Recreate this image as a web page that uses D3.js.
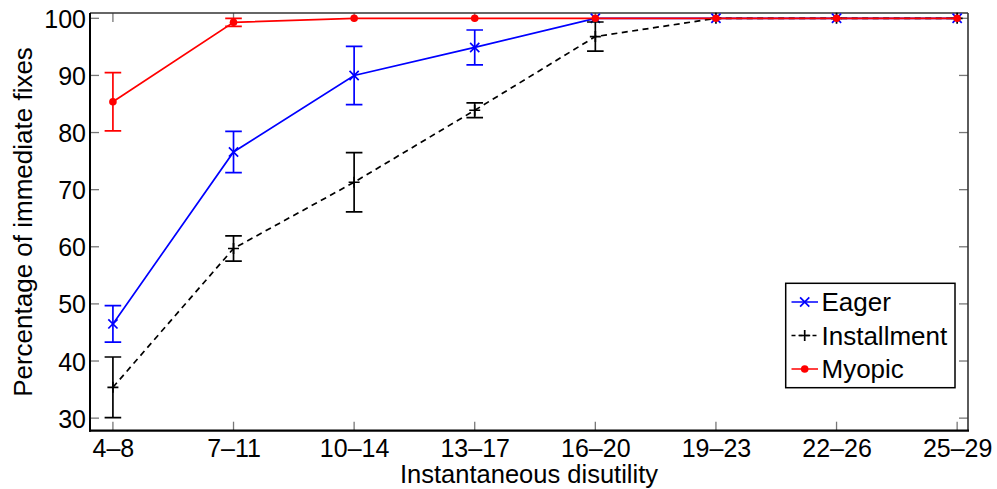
<!DOCTYPE html>
<html><head><meta charset="utf-8">
<script src="https://cdn.jsdelivr.net/npm/d3@7"></script>
<style>body{margin:0;background:#fff}svg{display:block}text{font-family:"Liberation Sans",Arial,Helvetica,sans-serif;fill:#000}</style>
</head><body>
<svg id="c" width="997" height="489"></svg>
<script>
const categories = ["4\u20138","7\u201311","10\u201314","13\u201317","16\u201320","19\u201323","22\u201326","25\u201329"];
const yTicks = [30,40,50,60,70,80,90,100];
const eagerMean = [46.5, 76.6, 90.0, 94.9, 100, 100, 100, 100];
const eagerErr  = [3.2, 3.6, 5.1, 3.05, 0, 0, 0, 0];
const installMean = [35.4, 59.7, 71.3, 83.9, 96.8, 100, 100, 100];
const installErr  = [5.3, 2.2, 5.2, 1.3, 2.55, 0, 0, 0];
const myopicMean = [85.4, 99.3, 100, 100, 100, 100, 100, 100];
const myopicErr  = [5.1, 0.7, 0, 0, 0, 0, 0, 0];
const seriesNames = ["Eager","Installment","Myopic"];

const svg = d3.select("#c");
const L = 90, R = 968, T = 13, B = 430.7;
const x = d3.scaleLinear().domain([-0.19, 7.09]).range([L, R]);
const y = d3.scaleLinear().domain([27.8, 100.93]).range([B, T]);

// ticks (inside), gray
const tg = svg.append("g").attr("stroke", "#777").attr("stroke-width", 1.3);
categories.forEach((c, i) => {
  tg.append("line").attr("x1", x(i)).attr("x2", x(i)).attr("y1", B).attr("y2", B - 9);
  tg.append("line").attr("x1", x(i)).attr("x2", x(i)).attr("y1", T).attr("y2", T + 9);
});
yTicks.forEach(v => {
  tg.append("line").attr("x1", L).attr("x2", L + 9).attr("y1", y(v)).attr("y2", y(v));
  tg.append("line").attr("x1", R).attr("x2", R - 9).attr("y1", y(v)).attr("y2", y(v));
});

// tick labels via axes
const xAxis = d3.axisBottom(x).tickValues(d3.range(categories.length)).tickFormat(i => categories[i]).tickSize(0).tickPadding(8.5);
const gx = svg.append("g").attr("transform", `translate(0,${B})`).call(xAxis);
gx.select(".domain").remove();
gx.selectAll("text").style("font-size", "25px").attr("fill", "#000");
const yAxis = d3.axisLeft(y).tickValues(yTicks).tickSize(0).tickPadding(4);
const gy = svg.append("g").attr("transform", `translate(${L},0)`).call(yAxis);
gy.select(".domain").remove();
gy.selectAll("text").style("font-size", "25px").attr("fill", "#000").attr("dy", "0.36em");

// box
svg.append("line").attr("x1", L).attr("x2", R).attr("y1", T).attr("y2", T).attr("stroke", "#333").attr("stroke-width", 1.6);
svg.append("line").attr("x1", R).attr("x2", R).attr("y1", T).attr("y2", B).attr("stroke", "#333").attr("stroke-width", 1.6);
svg.append("line").attr("x1", L).attr("x2", L).attr("y1", T).attr("y2", B + 1).attr("stroke", "#000").attr("stroke-width", 2);
svg.append("line").attr("x1", L - 1).attr("x2", R + 1).attr("y1", B).attr("y2", B).attr("stroke", "#000").attr("stroke-width", 2.2);

// axis labels
svg.append("text").attr("x", 529).attr("y", 482.5).attr("text-anchor", "middle").style("font-size", "25.5px").text("Instantaneous disutility");
svg.append("text").attr("transform", "translate(32,222) rotate(-90)").attr("text-anchor", "middle").style("font-size", "26px").text("Percentage of immediate fixes");

const clip = svg.append("defs").append("clipPath").attr("id", "pc").append("rect").attr("x", L - 10).attr("y", T - 8).attr("width", R - L + 20).attr("height", B - T + 8);
const plot = svg.append("g").attr("clip-path", "url(#pc)");

function drawSeries(means, errs, color, dash, marker) {
  const g = plot.append("g");
  const capW = 8.3;
  means.forEach((m, i) => {
    if (errs[i] > 0) {
      const y1 = y(m + errs[i]), y2 = y(m - errs[i]);
      g.append("line").attr("x1", x(i)).attr("x2", x(i)).attr("y1", y1).attr("y2", y2).attr("stroke", color).attr("stroke-width", 1.7);
      g.append("line").attr("x1", x(i) - capW).attr("x2", x(i) + capW).attr("y1", y1).attr("y2", y1).attr("stroke", color).attr("stroke-width", 1.7);
      g.append("line").attr("x1", x(i) - capW).attr("x2", x(i) + capW).attr("y1", y2).attr("y2", y2).attr("stroke", color).attr("stroke-width", 1.7);
    }
  });
  const line = d3.line().x((d, i) => x(i)).y(d => y(d));
  g.append("path").datum(means).attr("d", line).attr("fill", "none").attr("stroke", color).attr("stroke-width", 1.7).attr("stroke-dasharray", dash);
  means.forEach((m, i) => drawMarker(g, marker, x(i), y(m), color));
}
function drawMarker(g, marker, cx, cy, color) {
  if (marker === "x") {
    const s = 4.6;
    g.append("path").attr("d", `M${cx - s},${cy - s}L${cx + s},${cy + s}M${cx - s},${cy + s}L${cx + s},${cy - s}`).attr("stroke", color).attr("stroke-width", 1.7).attr("fill", "none");
  } else if (marker === "+") {
    const s = 5.5;
    g.append("path").attr("d", `M${cx - s},${cy}L${cx + s},${cy}M${cx},${cy - s}L${cx},${cy + s}`).attr("stroke", color).attr("stroke-width", 1.7).attr("fill", "none");
  } else {
    g.append("circle").attr("cx", cx).attr("cy", cy).attr("r", 3.8).attr("fill", color);
  }
}
drawSeries(eagerMean, eagerErr, "#0000ff", null, "x");
drawSeries(installMean, installErr, "#000000", "6,4.5", "+");
drawSeries(myopicMean, myopicErr, "#ff0000", null, "dot");

// legend
const lg = svg.append("g");
lg.append("rect").attr("x", 785.7).attr("y", 283.3).attr("width", 169.3).attr("height", 104.4).attr("fill", "#fff").attr("stroke", "#000").attr("stroke-width", 1.5);
const legendItems = [
  {name: seriesNames[0], color: "#0000ff", dash: null, marker: "x"},
  {name: seriesNames[1], color: "#000000", dash: "4,3", marker: "+"},
  {name: seriesNames[2], color: "#ff0000", dash: null, marker: "dot"}
];
const ly = d3.scalePoint().domain(seriesNames).range([302, 369]);
legendItems.forEach(it => {
  const cy = ly(it.name);
  lg.append("line").attr("x1", 791.5).attr("x2", 818).attr("y1", cy).attr("y2", cy).attr("stroke", it.color).attr("stroke-width", 1.5).attr("stroke-dasharray", it.dash);
  drawMarker(lg, it.marker, 804.7, cy, it.color);
  lg.append("text").attr("x", 821.5).attr("y", cy).attr("dy", "0.36em").style("font-size", "26px").text(it.name);
});
</script>
</body></html>
